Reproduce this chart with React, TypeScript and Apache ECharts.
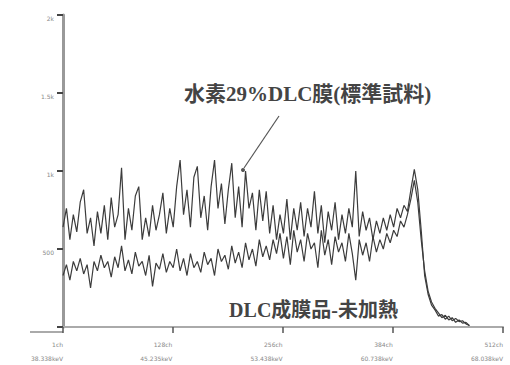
import React, { useEffect, useRef } from "react";
import * as echarts from "echarts";

const CH_STEP = 4;
const xTicks = [1, 128, 256, 384, 512];
const xTickCh = ["1ch", "128ch", "256ch", "384ch", "512ch"];
const xTickKeV = ["38.338keV", "45.235keV", "53.438keV", "60.738keV", "68.038keV"];
const yTickLabels: Record<number, string> = { 0: "", 500: "500", 1000: "1k", 1500: "1.5k", 2000: "2k" };

const standardSample = [
  640, 760, 560, 720, 610, 800, 880, 600, 700, 520,
  740, 600, 780, 560, 830, 640, 720, 1020, 560, 760,
  620, 840, 900, 560, 700, 580, 780, 620, 720, 860,
  600, 760, 640, 900, 1070, 720, 880, 640, 960, 1030,
  700, 840, 620, 900, 1070, 760, 920, 660, 880, 1050,
  700, 900, 640, 1000, 760, 860, 620, 880, 680, 870,
  600, 780, 560, 720, 600, 820, 560, 760, 620, 800,
  580, 760, 640, 870, 600, 780, 540, 740, 620, 800,
  560, 720, 600, 760, 640, 1000, 580, 740, 620, 700,
  560, 680, 600, 700, 620, 720, 640, 760, 700, 780,
  740, 880, 1010, 880, 620, 330, 210, 140, 110, 70,
  80, 50, 70, 40, 55, 35, 40, 20, 10,
];

const unheated = [
  330, 400, 300, 420, 360, 440, 340, 400, 250, 420,
  360, 460, 380, 420, 320, 450, 380, 520, 360, 430,
  340, 480, 390, 420, 330, 460, 260, 410, 370, 470,
  350, 420, 380, 500, 360, 440, 330, 470, 380, 420,
  350, 480, 400, 440, 330, 500, 420, 460, 370, 520,
  410, 480, 380, 540, 430, 500, 390, 560, 450, 520,
  430, 560, 470, 600, 440, 580, 400, 620, 480, 560,
  420, 600, 500, 540, 380, 620, 460, 560, 400, 580,
  480, 540, 420, 600, 470, 300, 560, 460, 540, 420,
  580, 480, 560, 500, 600, 540, 620, 580, 680, 640,
  720, 820, 940, 800, 560, 360, 230, 160, 120, 90,
  60, 75, 45, 60, 30, 45, 25, 30, 8,
];

const toPairs = (vals: number[]) => vals.map((v, i) => [1 + i * CH_STEP, v]);

export default function App() {
  const ref = useRef<HTMLDivElement>(null);
  useEffect(() => {
    if (!ref.current) return;
    const chart = echarts.init(ref.current, undefined, { renderer: "svg" });
    const lineStyle = { color: "#3c3c3c", width: 1.2 };
    chart.setOption({
      animation: false,
      backgroundColor: "#fff",
      grid: { left: 63, right: 7, top: 15, bottom: 33 },
      xAxis: {
        type: "value",
        min: 1,
        max: 512,
        axisLine: { show: true, lineStyle: { color: "#aaa", width: 2 } },
        axisTick: {
          show: true,
          customValues: xTicks,
          length: 6,
          lineStyle: { color: "#555", width: 1.5 },
        },
        axisLabel: {
          customValues: xTicks,
          formatter: (v: number) => {
            const i = xTicks.indexOf(v);
            return i >= 0 ? `${xTickCh[i]}\n${xTickKeV[i]}` : "";
          },
          align: "right",
          fontSize: 6,
          lineHeight: 14,
          color: "#888",
          margin: 10,
          fontFamily: "DejaVu Sans",
        },
        splitLine: { show: false },
      },
      yAxis: {
        type: "value",
        min: 0,
        max: 2000,
        interval: 500,
        axisLine: { show: true, lineStyle: { color: "#999", width: 3 } },
        axisTick: { show: true, length: 6, lineStyle: { color: "#444", width: 2 } },
        axisLabel: {
          formatter: (v: number) => yTickLabels[v] ?? "",
          fontSize: 6,
          color: "#888",
          margin: 9,
          verticalAlign: "top",
          fontFamily: "DejaVu Sans",
        },
        splitLine: { show: false },
      },
      graphic: [
        {
          type: "line",
          shape: { x1: 30, y1: 332, x2: 63, y2: 332 },
          style: { stroke: "#aaa", lineWidth: 2 },
        },
        {
          type: "text",
          left: 184,
          top: 83,
          style: {
            text: "水素29%DLC膜(標準試料)",
            fontSize: 21,
            fontWeight: "bold",
            fontFamily: "Liberation Serif, Noto Sans CJK JP",
            fill: "#444",
          },
        },
        {
          type: "line",
          shape: { x1: 279, y1: 116, x2: 244, y2: 168 },
          style: { stroke: "#555", lineWidth: 1.2 },
        },
        {
          type: "circle",
          shape: { cx: 243, cy: 170, r: 2 },
          style: { fill: "#555" },
        },
        {
          type: "text",
          right: 112,
          top: 300,
          style: {
            text: "DLC成膜品-未加熱",
            fontSize: 20,
            fontWeight: "bold",
            fontFamily: "Liberation Serif, Noto Sans CJK JP",
            fill: "#444",
          },
        },
      ],
      series: [
        {
          name: "水素29%DLC膜(標準試料)",
          type: "line",
          data: toPairs(standardSample),
          showSymbol: false,
          lineStyle,
        },
        {
          name: "DLC成膜品-未加熱",
          type: "line",
          data: toPairs(unheated),
          showSymbol: false,
          lineStyle,
        },
      ],
    });
    return () => chart.dispose();
  }, []);
  return (
    <div
      ref={ref}
      style={{ position: "absolute", left: 0, top: 0, width: 510, height: 365 }}
    />
  );
}
